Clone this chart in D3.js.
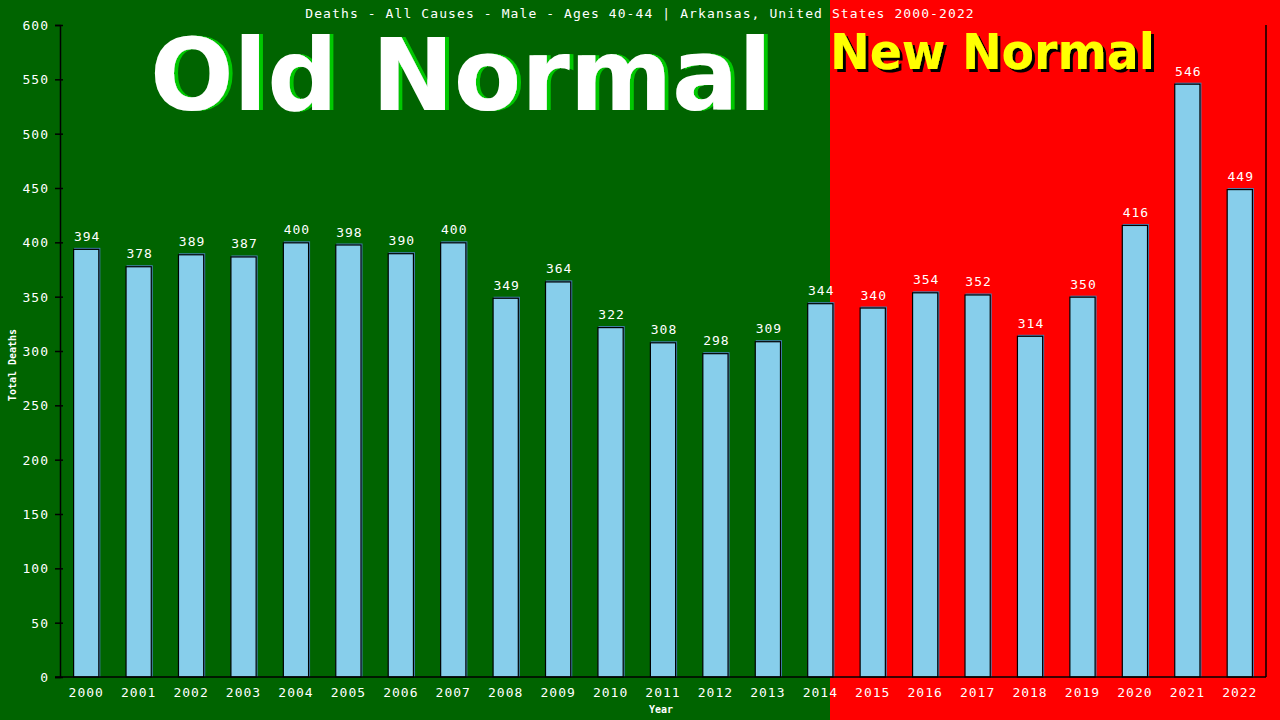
<!DOCTYPE html>
<html lang="en">
<head>
  <meta charset="UTF-8">
  <title>Deaths - All Causes - Male - Ages 40-44 | Arkansas</title>
  <script src="https://d3js.org/d3.v7.min.js"></script>
  <style>
    body { margin: 0; background: #006400; }
    svg { display: block; }
  </style>
</head>
<body>
  <div id="chart"></div>
  <script>
    // data
    const years = ["2000", "2001", "2002", "2003", "2004", "2005", "2006", "2007", "2008", "2009", "2010", "2011",
      "2012", "2013", "2014", "2015", "2016", "2017", "2018", "2019", "2020", "2021", "2022"];
    const deaths = [394, 378, 389, 387, 400, 398, 390, 400, 349, 364, 322, 308,
      298, 309, 344, 340, 354, 352, 314, 350, 416, 546, 449];
    const yTicks = [0, 50, 100, 150, 200, 250, 300, 350, 400, 450, 500, 550, 600];
    const titleText = "Deaths - All Causes - Male - Ages 40-44 | Arkansas, United States 2000-2022";

    const W = 1280, H = 720;
    const margin = { top: 25, right: 14, bottom: 43, left: 60 };
    const splitX = 830; // where the red "new normal" area starts

    const svg = d3.select("#chart").append("svg")
      .attr("width", W)
      .attr("height", H);

    // hard drop shadows for the two big labels
    const defs = svg.append("defs");
    function shadow(id, dx, dy, color) {
      const f = defs.append("filter").attr("id", id)
        .attr("x", "-5%").attr("y", "-10%").attr("width", "110%").attr("height", "120%");
      f.append("feFlood").attr("flood-color", color).attr("result", "c");
      f.append("feComposite").attr("in", "c").attr("in2", "SourceAlpha").attr("operator", "in").attr("result", "s");
      f.append("feOffset").attr("in", "s").attr("dx", dx).attr("dy", dy).attr("result", "o");
      const m = f.append("feMerge");
      m.append("feMergeNode").attr("in", "o");
      m.append("feMergeNode").attr("in", "SourceGraphic");
    }
    shadow("greenShadow", 4, 0, "#00c800");
    shadow("blackShadow", 3, 3, "#000000");

    // backgrounds
    svg.append("rect").attr("x", 0).attr("y", 0).attr("width", splitX).attr("height", H).attr("fill", "#006400");
    svg.append("rect").attr("x", splitX).attr("y", 0).attr("width", W - splitX).attr("height", H).attr("fill", "#ff0000");

    const x = d3.scaleBand()
      .domain(years)
      .range([margin.left, W - margin.right])
      .paddingInner(0.5)
      .paddingOuter(0.25);

    const y = d3.scaleLinear()
      .domain([0, 600])
      .range([H - margin.bottom, margin.top]);

    const mono = "'DejaVu Sans Mono', 'Liberation Mono', monospace";

    // big labels
    svg.append("text")
      .attr("x", 150).attr("y", 110)
      .attr("textLength", 622).attr("lengthAdjust", "spacingAndGlyphs")
      .attr("filter", "url(#greenShadow)")
      .style("font-family", "'DejaVu Sans', Verdana, sans-serif")
      .style("font-weight", "bold").style("font-size", "100px")
      .attr("fill", "#ffffff")
      .text("Old Normal");

    svg.append("text")
      .attr("x", 830).attr("y", 69)
      .attr("textLength", 325).attr("lengthAdjust", "spacingAndGlyphs")
      .attr("filter", "url(#blackShadow)")
      .style("font-family", "'DejaVu Sans', Verdana, sans-serif")
      .style("font-weight", "bold").style("font-size", "50px")
      .attr("fill", "#ffff00")
      .text("New Normal");

    // title
    svg.append("text")
      .attr("x", W / 2).attr("y", 18)
      .attr("text-anchor", "middle")
      .style("font-family", mono).style("font-size", "13px")
      .style("letter-spacing", "1.1px")
      .attr("fill", "#ffffff")
      .text(titleText);

    // bars: steelblue offset edge behind, skyblue bar with black outline
    const bars = svg.append("g");
    bars.selectAll("rect.edge")
      .data(deaths)
      .enter()
      .append("rect")
      .attr("class", "edge")
      .attr("x", (d, i) => x(years[i]) + 1)
      .attr("y", d => y(d) - 1)
      .attr("width", x.bandwidth())
      .attr("height", d => y(0) - y(d) + 1)
      .attr("fill", "#4682b4");
    bars.selectAll("rect.bar")
      .data(deaths)
      .enter()
      .append("rect")
      .attr("class", "bar")
      .attr("x", (d, i) => x(years[i]) + 0.5)
      .attr("y", d => y(d) + 0.5)
      .attr("width", x.bandwidth() - 1)
      .attr("height", d => y(0) - y(d) - 0.5)
      .attr("fill", "#87ceeb")
      .attr("stroke", "#000000")
      .attr("stroke-width", 1.2);

    // value labels
    svg.selectAll("text.val")
      .data(deaths)
      .enter()
      .append("text")
      .attr("class", "val")
      .attr("x", (d, i) => x(years[i]) + x.bandwidth() / 2 + 1)
      .attr("y", d => y(d) - 8)
      .attr("text-anchor", "middle")
      .style("font-family", mono).style("font-size", "13px")
      .style("letter-spacing", "1px")
      .attr("fill", "#ffffff")
      .text(d => d);

    // y axis
    const yAxis = svg.append("g")
      .attr("transform", `translate(${margin.left},0)`)
      .call(d3.axisLeft(y).tickValues(yTicks).tickSize(5).tickPadding(6));
    yAxis.select(".domain").attr("stroke", "#000").attr("stroke-width", 1.5);
    yAxis.selectAll(".tick line").attr("stroke", "#000").attr("x2", 3).attr("x1", -5).attr("stroke-width", 1.5);
    yAxis.selectAll(".tick text")
      .attr("fill", "#ffffff")
      .style("font-family", mono).style("font-size", "13px")
      .style("letter-spacing", "1px")
      .attr("dy", "0.35em");

    // x axis
    const xAxis = svg.append("g")
      .attr("transform", `translate(0,${H - margin.bottom})`)
      .call(d3.axisBottom(x).tickSize(0).tickPadding(11));
    xAxis.select(".domain").attr("stroke", "#000").attr("stroke-width", 1.5)
      .attr("d", `M${margin.left - 5},0H${W - margin.right}`);
    xAxis.selectAll(".tick text")
      .attr("fill", "#ffffff")
      .style("font-family", mono).style("font-size", "13px")
      .style("letter-spacing", "1px");

    // right border line
    svg.append("line")
      .attr("x1", W - margin.right).attr("x2", W - margin.right)
      .attr("y1", margin.top).attr("y2", H - margin.bottom)
      .attr("stroke", "#000").attr("stroke-width", 1.5);

    // axis titles
    svg.append("text")
      .attr("x", 661).attr("y", 713)
      .attr("text-anchor", "middle")
      .style("font-family", mono).style("font-size", "10px").style("font-weight", "bold")
      .attr("fill", "#ffffff")
      .text("Year");
    svg.append("text")
      .attr("transform", `translate(16,${(margin.top + H - margin.bottom) / 2 + 14}) rotate(-90)`)
      .attr("text-anchor", "middle")
      .style("font-family", mono).style("font-size", "10px").style("font-weight", "bold")
      .attr("fill", "#ffffff")
      .text("Total Deaths");
  </script>
</body>
</html>
